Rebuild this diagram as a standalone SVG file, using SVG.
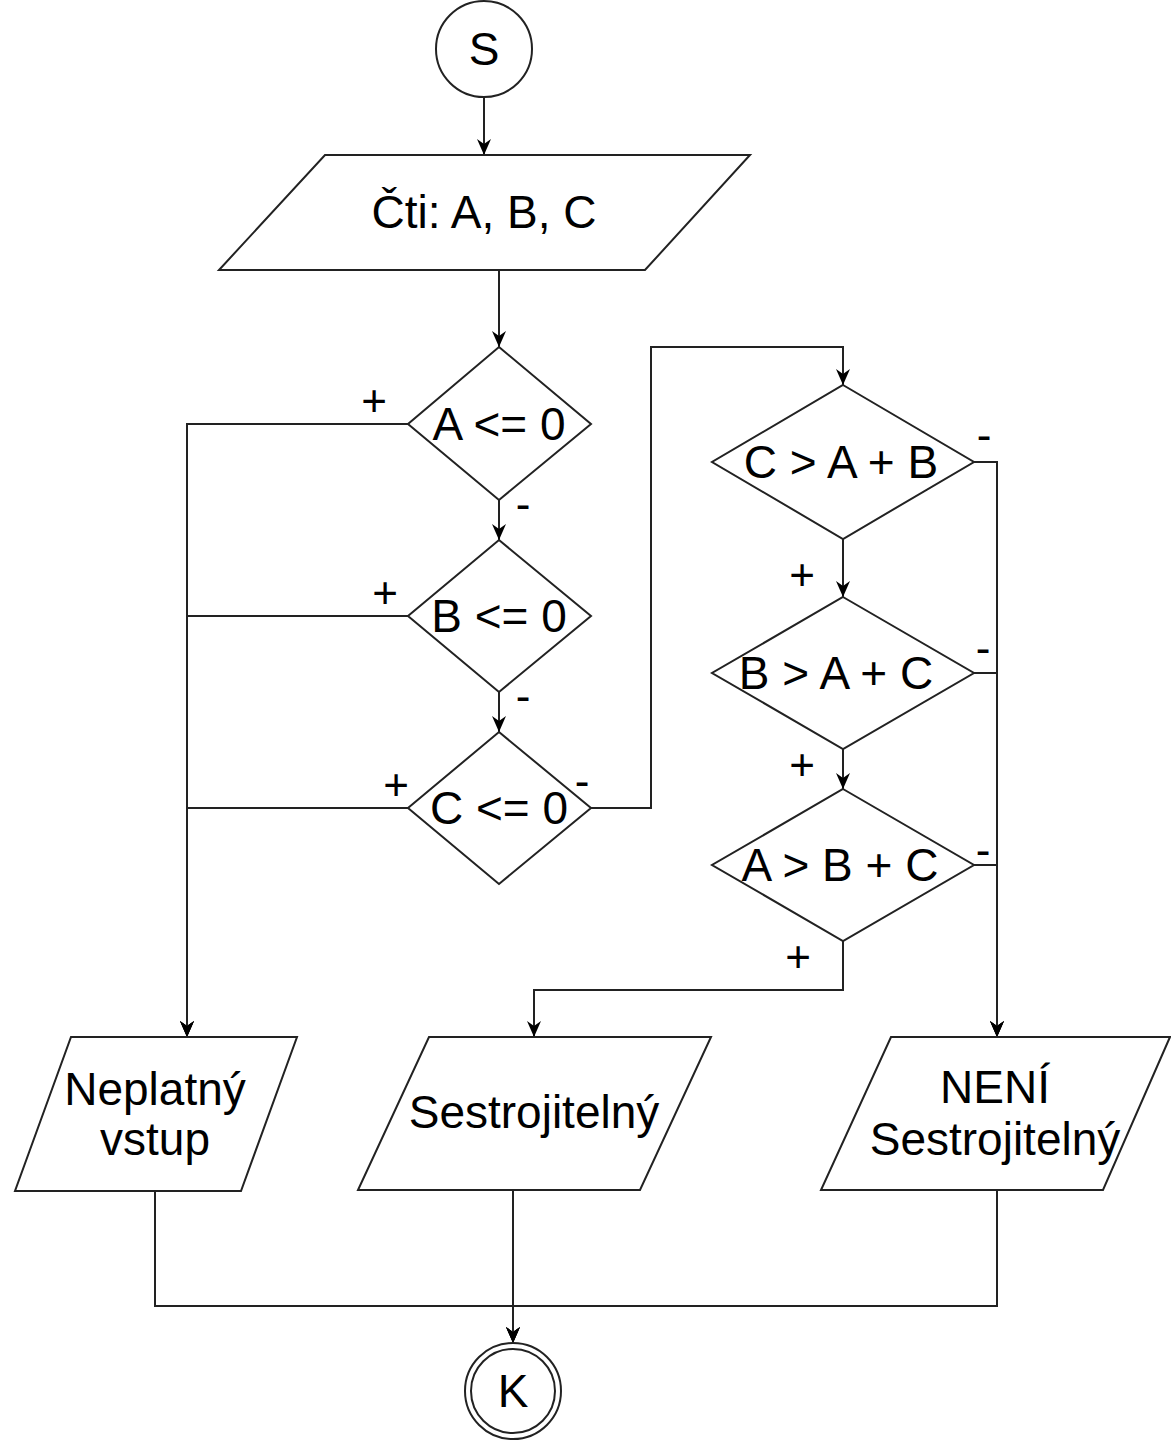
<svg xmlns="http://www.w3.org/2000/svg" width="1171" height="1440" viewBox="0 0 1171 1440">
  <defs>
    <marker id="arrow" viewBox="0 0 16 14" markerWidth="16" markerHeight="14" refX="16" refY="7" orient="auto" markerUnits="userSpaceOnUse">
      <path d="M0,0 L16,7 L0,14 L5,7 Z" fill="#000"/>
    </marker>
  </defs>
  <style>
    .shape { fill: #fff; stroke: #222; stroke-width: 2; }
    .edge { fill: none; stroke: #222; stroke-width: 2; }
    .arr { marker-end: url(#arrow); }
    text { font-family: "Liberation Sans", Arial, Helvetica, sans-serif; fill: #000; }
    .t { font-size: 46px; text-anchor: middle; }
    .lbl { font-size: 44px; text-anchor: middle; }
  </style>
  <rect width="1171" height="1440" fill="#fff"/>

  <!-- connectors -->
  <g id="connectors">
    <path class="edge arr" d="M484,97 L484,155"/>
    <path class="edge arr" d="M499,270 L499,347"/>
    <path class="edge arr" d="M499,500 L499,540"/>
    <path class="edge arr" d="M499,692 L499,732"/>
    <!-- positive branches to invalid input -->
    <path class="edge arr" d="M408,424 L187,424 L187,1037"/>
    <path class="edge arr" d="M408,616 L187,616 L187,1037"/>
    <path class="edge arr" d="M408,808 L187,808 L187,1037"/>
    <!-- C <= 0 negative branch to triangle checks -->
    <path class="edge arr" d="M591,808 L651,808 L651,347 L843,347 L843,385"/>
    <path class="edge arr" d="M843,539 L843,597"/>
    <path class="edge arr" d="M843,749 L843,789"/>
    <path class="edge arr" d="M843,941 L843,990 L534,990 L534,1037"/>
    <!-- negative branches to not constructible -->
    <path class="edge arr" d="M974,462 L997,462 L997,1037"/>
    <path class="edge arr" d="M974,673 L997,673 L997,1037"/>
    <path class="edge arr" d="M974,865 L997,865 L997,1037"/>
    <!-- outputs to end -->
    <path class="edge arr" d="M155,1191 L155,1306 L513,1306 L513,1343"/>
    <path class="edge arr" d="M513,1190 L513,1343"/>
    <path class="edge arr" d="M997,1190 L997,1306 L513,1306 L513,1343"/>
  </g>

  <!-- branch labels -->
  <g id="labels">
    <text class="lbl" x="374" y="416">+</text>
    <text class="lbl" x="523" y="519">-</text>
    <text class="lbl" x="385" y="608">+</text>
    <text class="lbl" x="523" y="711">-</text>
    <text class="lbl" x="396" y="800">+</text>
    <text class="lbl" x="582" y="796">-</text>
    <text class="lbl" x="984" y="450">-</text>
    <text class="lbl" x="802" y="590">+</text>
    <text class="lbl" x="983" y="663">-</text>
    <text class="lbl" x="802" y="780">+</text>
    <text class="lbl" x="983" y="865">-</text>
    <text class="lbl" x="798" y="972">+</text>
  </g>

  <g id="start">
    <circle class="shape" cx="484" cy="49" r="48"/>
    <text class="t" x="484" y="65">S</text>
  </g>

  <g id="read">
    <polygon class="shape" points="325,155 750,155 645,270 219,270"/>
    <text class="t" x="484" y="228">Čti: A, B, C</text>
  </g>

  <g id="a-le-0">
    <polygon class="shape" points="499,347 591,424 499,500 408,424"/>
    <text class="t" x="499" y="440">A &lt;= 0</text>
  </g>

  <g id="b-le-0">
    <polygon class="shape" points="499,540 591,616 499,692 408,616"/>
    <text class="t" x="499" y="632">B &lt;= 0</text>
  </g>

  <g id="c-le-0">
    <polygon class="shape" points="499,732 591,808 499,884 408,808"/>
    <text class="t" x="499" y="824">C &lt;= 0</text>
  </g>

  <g id="c-gt-ab">
    <polygon class="shape" points="843,385 974,462 843,539 712,462"/>
    <text class="t" x="841" y="478">C &gt; A + B</text>
  </g>

  <g id="b-gt-ac">
    <polygon class="shape" points="843,597 974,673 843,749 712,673"/>
    <text class="t" x="836" y="689">B &gt; A + C</text>
  </g>

  <g id="a-gt-bc">
    <polygon class="shape" points="843,789 974,865 843,941 712,865"/>
    <text class="t" x="840" y="881">A &gt; B + C</text>
  </g>

  <g id="invalid">
    <polygon class="shape" points="71,1037 297,1037 241,1191 15,1191"/>
    <text class="t" x="155" y="1105">Neplatný</text>
    <text class="t" x="155" y="1155">vstup</text>
  </g>

  <g id="constructible">
    <polygon class="shape" points="429,1037 711,1037 640,1190 358,1190"/>
    <text class="t" x="534" y="1128">Sestrojitelný</text>
  </g>

  <g id="not-constructible">
    <polygon class="shape" points="891,1037 1170,1037 1103,1190 821,1190"/>
    <text class="t" x="995" y="1103">NENÍ</text>
    <text class="t" x="995" y="1155">Sestrojitelný</text>
  </g>

  <g id="end">
    <circle class="shape" cx="513" cy="1391" r="48"/>
    <circle class="shape" cx="513" cy="1391" r="42"/>
    <text class="t" x="513" y="1407">K</text>
  </g>
</svg>
